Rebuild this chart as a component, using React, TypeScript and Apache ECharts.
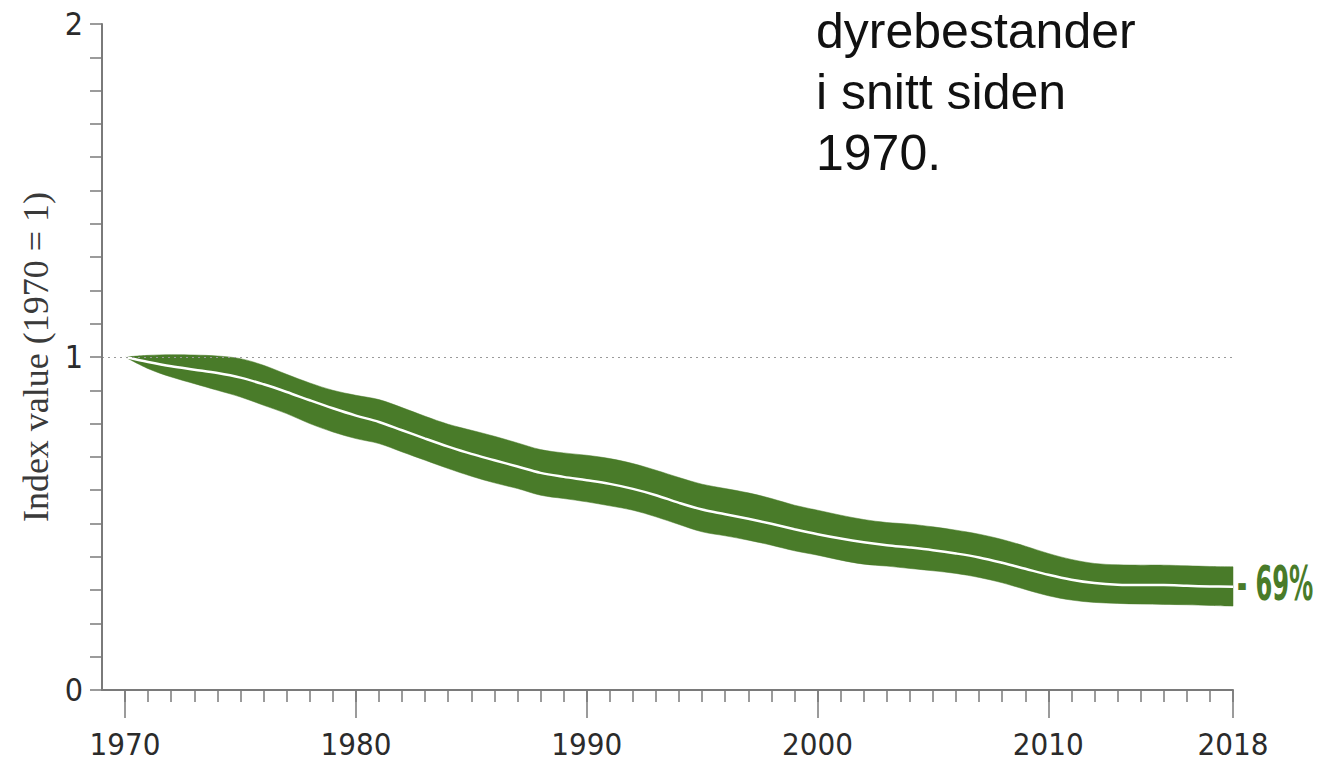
import React, { useEffect, useRef } from "react";
import * as echarts from "echarts";

const years: number[] = [
  1970, 1971, 1972, 1973, 1974, 1975, 1976, 1977, 1978, 1979,
  1980, 1981, 1982, 1983, 1984, 1985, 1986, 1987, 1988, 1989,
  1990, 1991, 1992, 1993, 1994, 1995, 1996, 1997, 1998, 1999,
  2000, 2001, 2002, 2003, 2004, 2005, 2006, 2007, 2008, 2009,
  2010, 2011, 2012, 2013, 2014, 2015, 2016, 2017, 2018,
];

const indexValue: number[] = [
  1.0, 0.985, 0.972, 0.962, 0.952, 0.938, 0.918, 0.895, 0.87, 0.846,
  0.824, 0.805, 0.78, 0.755, 0.731, 0.709, 0.69, 0.671, 0.652, 0.64,
  0.63, 0.619, 0.604, 0.585, 0.562, 0.542, 0.528, 0.514, 0.499, 0.483,
  0.468, 0.455, 0.444, 0.435, 0.428, 0.42, 0.41, 0.398, 0.382, 0.364,
  0.346, 0.331, 0.321, 0.316, 0.315, 0.315, 0.313, 0.311, 0.31,
];

const upperBound: number[] = [
  1.0, 1.005, 1.007, 1.006, 1.003, 0.995, 0.975, 0.948, 0.922, 0.9,
  0.885, 0.872, 0.848, 0.822, 0.798, 0.78, 0.762, 0.742, 0.722, 0.712,
  0.705, 0.695, 0.68, 0.66, 0.638, 0.618, 0.605, 0.592, 0.575, 0.555,
  0.54, 0.525, 0.512, 0.503, 0.498, 0.49, 0.48, 0.468, 0.452, 0.432,
  0.41, 0.392, 0.38, 0.376, 0.375, 0.375, 0.373, 0.371, 0.37,
];

const lowerBound: number[] = [
  1.0, 0.965, 0.94, 0.92, 0.9, 0.88, 0.855, 0.83, 0.8, 0.775,
  0.755, 0.74, 0.715, 0.69, 0.665, 0.642, 0.622, 0.605, 0.585, 0.575,
  0.565, 0.553, 0.54, 0.52, 0.497, 0.475, 0.463, 0.45, 0.435, 0.418,
  0.405, 0.39, 0.378, 0.372, 0.365, 0.358, 0.35, 0.338, 0.322, 0.302,
  0.283, 0.27, 0.263, 0.26, 0.258, 0.257, 0.256, 0.254, 0.252,
];

const majorYears: number[] = [1970, 1980, 1990, 2000, 2010, 2018];
const yTickLabels: number[] = [0, 1, 2];
const changeLabel = "- 69%";
const yAxisTitle = "Index value (1970 = 1)";
const noteLines: string[] = ["dyrebestander", "i snitt siden", "1970."];

const GREEN = "#497b29";
const AXIS = "#7a7a7a";
const COND = '"Liberation Sans Narrow", "DejaVu Sans Condensed", sans-serif';

// Build a smooth cubic-bezier path through screen points (rendering only).
function smoothSegments(pts: number[][], smooth: number, startWithMove: boolean): string {
  const n = pts.length;
  const cps: { cin: number[]; cout: number[] }[] = [];
  for (let i = 0; i < n; i++) {
    const p = pts[i];
    if (i === 0 || i === n - 1) {
      cps.push({ cin: p, cout: p });
      continue;
    }
    const prev = pts[i - 1];
    const next = pts[i + 1];
    const vx = next[0] - prev[0];
    const vy = next[1] - prev[1];
    const d0 = Math.hypot(p[0] - prev[0], p[1] - prev[1]);
    const d1 = Math.hypot(next[0] - p[0], next[1] - p[1]);
    const s = d0 + d1 || 1;
    cps.push({
      cin: [p[0] - vx * smooth * (d0 / s), p[1] - vy * smooth * (d0 / s)],
      cout: [p[0] + vx * smooth * (d1 / s), p[1] + vy * smooth * (d1 / s)],
    });
  }
  let d = (startWithMove ? "M" : "L") + pts[0][0] + "," + pts[0][1];
  for (let i = 1; i < n; i++) {
    const a = cps[i - 1].cout;
    const b = cps[i].cin;
    d += " C" + a[0] + "," + a[1] + " " + b[0] + "," + b[1] + " " + pts[i][0] + "," + pts[i][1];
  }
  return d;
}

export default function App() {
  const ref = useRef<HTMLDivElement>(null);

  useEffect(() => {
    if (!ref.current) return;
    const chart = echarts.init(ref.current, undefined, { renderer: "svg" });

    const bandData = years.map((y, i) => [y, upperBound[i], lowerBound[i]]);
    const centerData = years.map((y, i) => [y, indexValue[i]]);

    chart.setOption({
      animation: false,
      backgroundColor: "#ffffff",
      grid: { left: 102, right: 103, top: 24, bottom: 71, containLabel: false },
      xAxis: [
        {
          type: "value",
          min: 1969,
          max: 2018,
          position: "bottom",
          z: 10,
          axisLine: { show: true, onZero: false, lineStyle: { color: AXIS, width: 2 } },
          axisTick: { show: true, customValues: years, length: 12, lineStyle: { color: AXIS, width: 1.5 } },
          axisLabel: { show: false },
          splitLine: { show: false },
        },
        {
          type: "value",
          min: 1969,
          max: 2018,
          position: "bottom",
          z: 10,
          axisLine: { show: false },
          axisTick: { show: true, customValues: majorYears, length: 28, lineStyle: { color: AXIS, width: 1.5 } },
          axisLabel: {
            show: true,
            customValues: majorYears,
            margin: 54,
            verticalAlign: "middle",
            lineHeight: 30,
            fontFamily: COND,
            fontSize: 31,
            color: "#2b2b2b",
            formatter: (v: number) => String(v),
          },
          splitLine: { show: false },
        },
      ],
      yAxis: {
        type: "value",
        min: 0,
        max: 2,
        interval: 0.1,
        z: 10,
        name: yAxisTitle,
        nameLocation: "middle",
        nameGap: 44,
        nameRotate: 90,
        nameTextStyle: { fontFamily: '"Liberation Serif", "DejaVu Serif", serif', fontSize: 36, color: "#3a3a3a" },
        axisLine: { show: true, lineStyle: { color: AXIS, width: 2 } },
        axisTick: { show: true, length: 12, lineStyle: { color: AXIS, width: 1.5 } },
        axisLabel: {
          show: true,
          margin: 19,
          fontFamily: COND,
          fontSize: 32,
          color: "#2b2b2b",
          formatter: (v: number) => {
            const r = Math.round(v);
            return Math.abs(v - r) < 1e-6 && yTickLabels.indexOf(r) >= 0 ? String(r) : "";
          },
        },
        splitLine: { show: false },
      },
      series: [
        {
          type: "custom",
          name: "band",
          data: bandData,
          encode: { x: 0, y: [1, 2] },
          silent: true,
          z: 2,
          renderItem: (params: any, api: any) => {
            if (params.dataIndex !== 0) return null;
            const up = bandData.map((d) => api.coord([d[0], d[1]]));
            const lo = bandData.map((d) => api.coord([d[0], d[2]])).reverse();
            const pathData =
              smoothSegments(up, 0.35, true) + " " + smoothSegments(lo, 0.35, false) + " Z";
            return {
              type: "path",
              shape: { pathData },
              style: { fill: GREEN, stroke: GREEN, lineWidth: 0.5 },
            };
          },
        },
        {
          type: "line",
          name: "index",
          data: centerData,
          smooth: 0.35,
          symbol: "none",
          lineStyle: { color: "#ffffff", width: 2.5 },
          silent: true,
          z: 4,
          markLine: {
            silent: true,
            symbol: "none",
            z: 6,
            label: { show: false },
            lineStyle: { color: "#9a9a9a", type: [2, 4], width: 1.2 },
            data: [{ yAxis: 1 }],
          },
        },
      ],
      graphic: [
        {
          type: "text",
          x: 1237,
          y: 559,
          scaleX: 0.56,
          z: 20,
          style: {
            text: changeLabel,
            fill: GREEN,
            font: `bold 48px ${COND}`,
          },
        },
        ...noteLines.map((t, i) => ({
          type: "text",
          left: 816,
          top: 6 + i * 61,
          style: {
            text: t,
            fill: "#111111",
            font: '50px "Liberation Sans", Arial, sans-serif',
          },
        })),
      ],
    });

    return () => chart.dispose();
  }, []);

  return (
    <div
      ref={ref}
      style={{ position: "fixed", left: 0, top: 0, width: 1336, height: 761, background: "#fff" }}
    />
  );
}
